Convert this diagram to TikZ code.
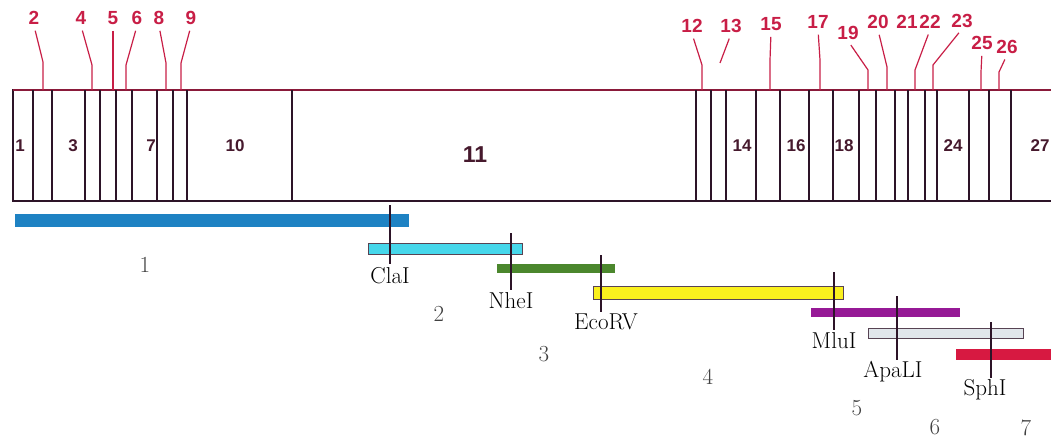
\documentclass[tikz,border=0pt]{standalone}
\usepackage{fontspec}
\newfontfamily\mapfont{Liberation Sans}
\usetikzlibrary{positioning}
\definecolor{sitered}{RGB}{200,30,70}
\definecolor{segtext}{RGB}{70,25,45}
\definecolor{boxcol}{RGB}{45,20,40}
\definecolor{fragtext}{RGB}{65,65,65}
\definecolor{fragblue}{RGB}{30,130,195}
\definecolor{fragcyan}{RGB}{70,215,235}
\definecolor{fraggreen}{RGB}{75,135,45}
\definecolor{fragyellow}{RGB}{250,240,30}
\definecolor{fragpurple}{RGB}{150,25,150}
\definecolor{fraggray}{RGB}{225,230,235}
\definecolor{fragred}{RGB}{215,25,65}

\begin{document}
\begin{tikzpicture}[x=1pt,y=-1pt,
  site/.style={font=\mapfont\bfseries\fontsize{19}{21}\selectfont, text=sitered, inner sep=1pt},
  seg/.style={font=\mapfont\bfseries\fontsize{17}{19}\selectfont, text=segtext},
  leader/.style={sitered, line width=1.2pt, shorten <=5pt},
  boxline/.style={boxcol, line width=1.2pt},
  bar/.style={line width=1pt, draw=boxcol!80},
  cutline/.style={line width=1.6pt, boxcol},
  enz/.style={font=\fontsize{23}{26}\selectfont, inner sep=1pt},
  frag/.style={font=\fontsize{23}{26}\selectfont, text=fragtext}]
\useasboundingbox (0,0) rectangle (1051,442);
\clip (0,0) rectangle (1051,442);

%map
\draw[boxline] (13,90) rectangle (1070,201);
\draw[sitered!60!boxcol, line width=1.2pt] (13,90) -- (1070,90);
\foreach \x in {33,52,85,100,116,132,157,173,187,292,696,711,726,756,780,809,833,859,876,895,908,925,937,969,989,1011}
   \draw[boxline] (\x,90) -- (\x,201);
%segment numbers
\foreach \n/\x in {1/20,3/73,7/151,10/235,14/742,16/796,18/844,24/953,27/1040}
   \node[seg] (s\n) at (\x,146) {\n};
\node[seg, font=\mapfont\bfseries\fontsize{23}{25}\selectfont] (s11) at (475,155) {11};

%site labels
\foreach \n/\x/\y in {2/34/18,4/81/18,5/113/18,6/137/18,8/159/18,9/191/18,12/692/26,13/731/26,15/771/24,17/818/22,19/848/33,20/878/22,21/907/22,22/930/22,23/962/21,25/982/43,26/1007/47}
   \node[site] (t\n) at (\x,\y) {\n};
%leaders
\foreach \n/\bx/\by/\fx in {2/43/62/43,4/92/65/92,5/113/60/113,6/126/65/126,8/166/63/166,9/181/63/181,12/702/65/702,15/770/60/770,17/820/60/820,19/868/70/868,20/887/67/887,22/915/70/915,23/933/65/933,25/981/72/981,26/999/72/999}
   \draw[leader] (t\n.south) -- (\bx,\by) -- (\fx,90);
\draw[leader] (t13.south) -- (720,63);

%fragments
\draw[bar, fill=fragblue, draw=none] (15,214) rectangle (409,227);
\draw[bar, fill=fragcyan] (368,243) rectangle (522,254);
\draw[bar, fill=fraggreen, draw=none] (497,264) rectangle (615,273);
\draw[bar, fill=fragyellow] (593,286) rectangle (843,299);
\draw[bar, fill=fragpurple, draw=none] (811,308) rectangle (960,317);
\draw[bar, fill=fraggray] (868,328) rectangle (1023,338);
\draw[bar, fill=fragred, draw=none] (956,349) rectangle (1060,360);

%cut sites
\draw[cutline] (390,205) -- (390,264) coordinate (claI);
\node[enz, below=2pt of claI] (claIl) {ClaI};
\draw[cutline] (511,233) -- (511,290) coordinate (nheI);
\node[enz, below=1pt of nheI] (nheIl) {NheI};
\draw[cutline] (601,255) -- (601,312) coordinate (ecoRV);
\node[enz, below=1pt of ecoRV, xshift=5pt] (ecoRVl) {EcoRV};
\draw[cutline] (834,272) -- (834,330) coordinate (mluI);
\node[enz, below=1pt of mluI] (mluIl) {MluI};
\draw[cutline] (897,296) -- (897,360) coordinate (apaLI);
\node[enz, below=0pt of apaLI, xshift=-4pt] (apaLIl) {ApaLI};
\draw[cutline] (991,322) -- (991,378) coordinate (sphI);
\node[enz, below=0pt of sphI, xshift=-6pt] (sphIl) {SphI};

%fragment numbers
\foreach \n/\x/\y in {1/145/265,2/439/314,3/544/354,4/708/377,5/857/408,6/935/427,7/1026/428}
   \node[frag] (f\n) at (\x,\y) {\n};
\end{tikzpicture}
\end{document}
